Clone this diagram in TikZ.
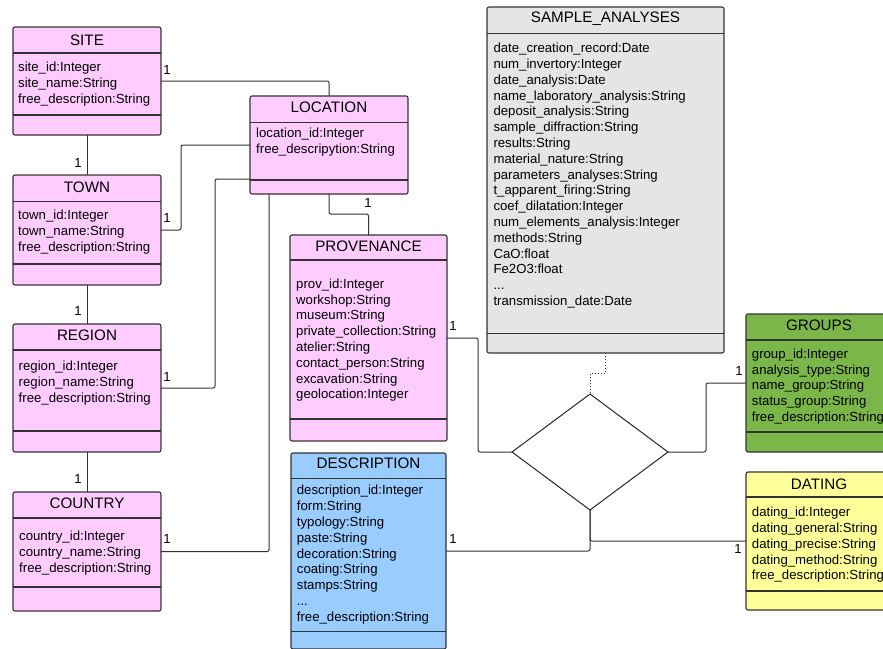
\documentclass[tikz,border=0pt]{standalone}
\usepackage{fontspec}
\setmainfont{Liberation Sans}
\usetikzlibrary{shapes.geometric}

\definecolor{pinkbox}{HTML}{FFCCFF}
\definecolor{greybox}{HTML}{E5E5E5}
\definecolor{bluebox}{HTML}{99CCFF}
\definecolor{greenbox}{HTML}{7AB648}
\definecolor{yellowbox}{HTML}{FFFF99}
\definecolor{boxline}{HTML}{333333}

\begin{document}
\begin{tikzpicture}[x=1pt,y=-1pt]
        \tikzset{box/.style={draw=boxline, line width=1.1pt, rounded corners=2pt, inner sep=0pt, outer sep=0pt, anchor=north west},
                 title/.style={font=\fontsize{15.2}{18}\selectfont, inner sep=0pt},
                 attrs/.style={font=\fontsize{13.2}{15.8}\selectfont, align=left, inner sep=0pt, anchor=north west, yshift=-1.5pt},
                 sep/.style={draw=boxline, line width=1.1pt},
                 link/.style={draw=black!80, line width=1pt, rounded corners=2pt},
                 card/.style={font=\fontsize{13.2}{15.8}\selectfont, inner sep=0pt}}
        \useasboundingbox (0,0) rectangle (883,648);

        % classes
        \node [box, fill=pinkbox, minimum width=148, minimum height=108] (site) at (13,27) {};
        \node [title] (site-t) at (87,40) {SITE};
        \node [attrs] (site-a) at (18,60.4) {site\_id:Integer\\site\_name:String\\free\_description:String};
        \draw [sep] (13,53) -- (161,53) (13,115) -- (161,115);

        \node [box, fill=pinkbox, minimum width=148, minimum height=110] (town) at (13,175) {};
        \node [title] (town-t) at (87,187) {TOWN};
        \node [attrs] (town-a) at (18,208.7) {town\_id:Integer\\town\_name:String\\free\_description:String};
        \draw [sep] (13,201.7) -- (161,201.7) (13,264) -- (161,264);

        \node [box, fill=pinkbox, minimum width=148, minimum height=128] (region) at (13,324) {};
        \node [title] (region-t) at (87,335) {REGION};
        \node [attrs] (region-a) at (18.5,359.7) {region\_id:Integer\\region\_name:String\\free\_description:String};
        \draw [sep] (13,350) -- (161,350) (13,431) -- (161,431);

        \node [box, fill=pinkbox, minimum width=148, minimum height=119] (country) at (13,492) {};
        \node [title] (country-t) at (87,503) {COUNTRY};
        \node [attrs] (country-a) at (19,529.4) {country\_id:Integer\\country\_name:String\\free\_description:String};
        \draw [sep] (13,518) -- (161,518) (13,587) -- (161,587);

        \node [box, fill=pinkbox, minimum width=158, minimum height=98] (location) at (250,96) {};
        \node [title] (location-t) at (329,107.3) {LOCATION};
        \node [attrs] (location-a) at (256,126.7) {location\_id:Integer\\free\_descripytion:String};
        \draw [sep] (250,122.7) -- (408,122.7) (250,180) -- (408,180);

        \node [box, fill=pinkbox, minimum width=157, minimum height=206] (provenance) at (290,235) {};
        \node [title] (provenance-t) at (368.5,246) {PROVENANCE};
        \node [attrs] (provenance-a) at (296,277) {prov\_id:Integer\\workshop:String\\museum:String\\private\_collection:String\\atelier:String\\contact\_person:String\\excavation:String\\geolocation:Integer};
        \draw [sep] (290,260) -- (447,260) (290,419) -- (447,419);

        \node [box, fill=bluebox, minimum width=155, minimum height=196] (description) at (291,453) {};
        \node [title] (description-t) at (368.5,463.3) {DESCRIPTION};
        \node [attrs] (description-a) at (296.7,483.7) {description\_id:Integer\\form:String\\typology:String\\paste:String\\decoration:String\\coating:String\\stamps:String\\...\\free\_description:String};
        \draw [sep] (291,478.3) -- (446,478.3) (291,631.7) -- (446,631.7);

        \node [box, fill=greybox, minimum width=237, minimum height=346] (sample) at (487,7) {};
        \node [title] (sample-t) at (605.5,18.3) {SAMPLE\_ANALYSES};
        \node [attrs] (sample-a) at (493.3,41.4) {date\_creation\_record:Date\\num\_invertory:Integer\\date\_analysis:Date\\name\_laboratory\_analysis:String\\deposit\_analysis:String\\sample\_diffraction:String\\results:String\\material\_nature:String\\parameters\_analyses:String\\t\_apparent\_firing:String\\coef\_dilatation:Integer\\num\_elements\_analysis:Integer\\methods:String\\CaO:float\\Fe2O3:float\\...\\transmission\_date:Date};
        \draw [sep] (487,33.3) -- (724,33.3) (487,333.3) -- (724,333.3);

        \node [box, fill=greenbox, minimum width=146, minimum height=138] (groups) at (746,314) {};
        \node [title] (groups-t) at (819,325) {GROUPS};
        \node [attrs] (groups-a) at (751.7,347) {group\_id:Integer\\analysis\_type:String\\name\_group:String\\status\_group:String\\free\_description:String};
        \draw [sep] (746,340) -- (892,340) (746,432) -- (892,432);

        \node [box, fill=yellowbox, minimum width=146, minimum height=138] (dating) at (746,472) {};
        \node [title] (dating-t) at (819,484) {DATING};
        \node [attrs] (dating-a) at (751.7,505.4) {dating\_id:Integer\\dating\_general:String\\dating\_precise:String\\dating\_method:String\\free\_description:String};
        \draw [sep] (746,497) -- (892,497) (746,591) -- (892,591);

        \node [draw=black!85, diamond, line width=1pt, inner sep=0pt, outer sep=0pt, minimum width=156, minimum height=116] (rel) at (590,452) {};

        % connectors
        \draw [link] (site.east) -| (location.north);
        \draw [link] (site.south) -- (town.north);
        \draw [link] (town.south) -- (region.north);
        \draw [link] (region.south) -- (country.north);
        \draw [link] (town.east) -- ++(20,0) |- (location.west);
        \draw [link] (region.east) -- ++(54,0) |- ([yshift=15pt]location.south west);
        \draw [link] (country.east) -| ([xshift=19pt]location.south west);
        \draw [link] (location.south) -- ++(0,20) -| (provenance.north);
        \draw [link] (provenance.east) -- ++(31,0) |- (rel.west);
        \draw [link] (description.east) -| (rel.south);
        \draw [link] (dating.west) -| (rel.south);
        \draw [link] (rel.east) -- ++(38,0) |- (groups.west);
        \draw [draw=black!80, line width=1pt, dotted] (sample.south) -- ++(0,20) -| (rel.north);

        % multiplicities
        \node [card] (c1)  at (167,70)  {1};
        \node [card] (c2)  at (78,163)  {1};
        \node [card] (c3)  at (167,218) {1};
        \node [card] (c4)  at (78,311)  {1};
        \node [card] (c5)  at (167,377) {1};
        \node [card] (c6)  at (78,479)  {1};
        \node [card] (c7)  at (167,539) {1};
        \node [card] (c8)  at (368,203) {1};
        \node [card] (c9)  at (453,326) {1};
        \node [card] (c10) at (453,539) {1};
        \node [card] (c11) at (739,371) {1};
        \node [card] (c12) at (738,549) {1};
    \end{tikzpicture}
\end{document}
